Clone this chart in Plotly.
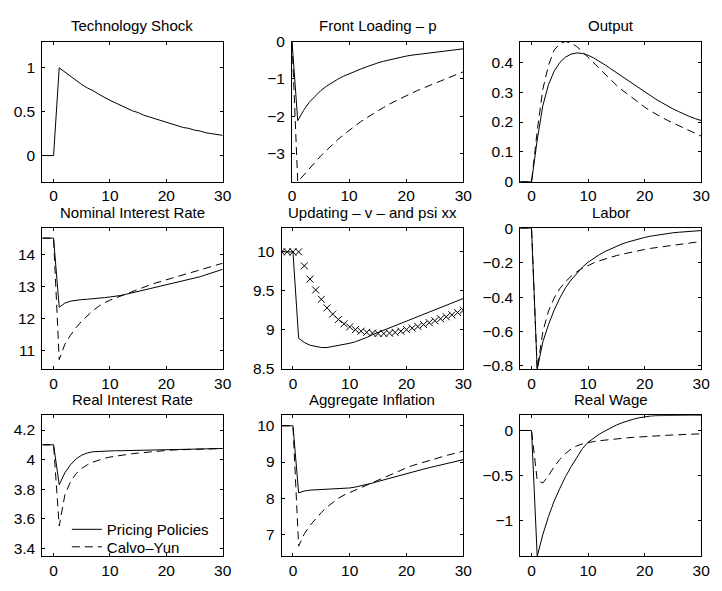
import plotly.graph_objects as go

# ---------------- data ----------------
T = list(range(-2, 31))

tech_shock = [0, 0, 0, 1.00, 0.95, 0.90, 0.86, 0.81, 0.77, 0.74, 0.70, 0.66, 0.63, 0.60, 0.57,
              0.54, 0.51, 0.49, 0.46, 0.44, 0.42, 0.40, 0.38, 0.36, 0.34, 0.32, 0.31, 0.29,
              0.28, 0.26, 0.25, 0.24, 0.23]

front_pp = [0, 0, 0, -2.12, -1.85, -1.63, -1.46, -1.32, -1.20, -1.10, -1.01, -0.93, -0.86, -0.80,
            -0.74, -0.68, -0.62, -0.575, -0.53, -0.49, -0.455, -0.42, -0.39, -0.365, -0.345,
            -0.325, -0.305, -0.285, -0.265, -0.245, -0.225, -0.21, -0.195]
front_cy = [0, 0, 0, -3.76, -3.58, -3.40, -3.23, -3.07, -2.92, -2.77, -2.63, -2.50, -2.38, -2.26,
            -2.15, -2.05, -1.95, -1.86, -1.77, -1.68, -1.60, -1.52, -1.45, -1.38, -1.31, -1.24,
            -1.18, -1.12, -1.06, -1.00, -0.94, -0.88, -0.81]

output_pp = [0, 0, 0, 0.14, 0.255, 0.325, 0.37, 0.399, 0.417, 0.427, 0.431, 0.429, 0.423, 0.414,
             0.403, 0.391, 0.378, 0.365, 0.352, 0.339, 0.326, 0.313, 0.300, 0.288, 0.276, 0.265,
             0.254, 0.244, 0.235, 0.226, 0.218, 0.211, 0.205]
output_cy = [0, 0, 0, 0.17, 0.31, 0.39, 0.44, 0.462, 0.469, 0.464, 0.452, 0.435, 0.416, 0.396,
             0.377, 0.358, 0.34, 0.323, 0.307, 0.292, 0.278, 0.264, 0.25, 0.237, 0.226, 0.216,
             0.206, 0.197, 0.188, 0.179, 0.17, 0.161, 0.153]

nomrate_pp = [14.5, 14.5, 14.5, 12.35, 12.48, 12.54, 12.57, 12.59, 12.60, 12.61, 12.63, 12.65,
              12.67, 12.69, 12.72, 12.76, 12.80, 12.84, 12.88, 12.92, 12.96, 13.00, 13.04, 13.08,
              13.13, 13.17, 13.21, 13.26, 13.30, 13.36, 13.42, 13.47, 13.53]
nomrate_cy = [14.5, 14.5, 14.5, 10.72, 11.20, 11.48, 11.72, 11.92, 12.10, 12.25, 12.38, 12.49,
              12.57, 12.64, 12.70, 12.76, 12.84, 12.92, 12.99, 13.04, 13.10, 13.15, 13.20, 13.26,
              13.31, 13.36, 13.41, 13.46, 13.51, 13.56, 13.61, 13.66, 13.72]

updating_v = [10, 10, 10, 8.89, 8.835, 8.80, 8.782, 8.77, 8.77, 8.782, 8.793, 8.808, 8.825,
              8.845, 8.87, 8.90, 8.935, 8.965, 8.994, 9.023, 9.052, 9.081, 9.11, 9.139, 9.168,
              9.197, 9.226, 9.255, 9.284, 9.313, 9.342, 9.371, 9.40]
updating_psi = [10, 10, 10, 10, 9.82, 9.65, 9.51, 9.39, 9.28, 9.20, 9.13, 9.075, 9.035, 9.00,
                8.98, 8.965, 8.955, 8.95, 8.95, 8.955, 8.965, 8.98, 9.00, 9.02, 9.04, 9.065,
                9.09, 9.115, 9.14, 9.165, 9.19, 9.22, 9.25]

labor_pp = [0, 0, 0, -0.82, -0.66, -0.56, -0.475, -0.405, -0.345, -0.30, -0.26, -0.225, -0.196,
            -0.173, -0.152, -0.134, -0.118, -0.103, -0.09, -0.079, -0.069, -0.06, -0.052, -0.045,
            -0.039, -0.034, -0.029, -0.025, -0.022, -0.019, -0.016, -0.014, -0.012]
labor_cy = [0, 0, 0, -0.82, -0.60, -0.48, -0.405, -0.35, -0.31, -0.278, -0.252, -0.232, -0.215,
            -0.20, -0.188, -0.177, -0.167, -0.158, -0.15, -0.142, -0.135, -0.128, -0.122, -0.116,
            -0.111, -0.106, -0.101, -0.096, -0.092, -0.088, -0.084, -0.08, -0.076]

realrate_pp = [4.10, 4.10, 4.10, 3.83, 3.91, 3.965, 4.005, 4.03, 4.045, 4.053, 4.056, 4.058,
               4.059, 4.06, 4.06, 4.061, 4.061, 4.062, 4.062, 4.063, 4.064, 4.065, 4.066, 4.066,
               4.067, 4.068, 4.069, 4.07, 4.071, 4.072, 4.073, 4.074, 4.075]
realrate_cy = [4.10, 4.10, 4.10, 3.55, 3.76, 3.85, 3.905, 3.94, 3.965, 3.983, 3.997, 4.008,
               4.017, 4.024, 4.03, 4.035, 4.04, 4.044, 4.048, 4.051, 4.056, 4.06, 4.063, 4.065,
               4.066, 4.067, 4.069, 4.07, 4.071, 4.072, 4.073, 4.074, 4.075]

inflation_pp = [10, 10, 10, 8.15, 8.20, 8.225, 8.235, 8.24, 8.243, 8.248, 8.255, 8.267, 8.285,
                8.31, 8.34, 8.375, 8.42, 8.465, 8.51, 8.555, 8.60, 8.64, 8.68, 8.725, 8.765,
                8.805, 8.845, 8.88, 8.92, 8.955, 8.99, 9.03, 9.065]
inflation_cy = [10, 10, 10, 6.68, 7.02, 7.25, 7.44, 7.61, 7.76, 7.89, 8.00, 8.09, 8.16, 8.23,
                8.30, 8.37, 8.44, 8.51, 8.58, 8.65, 8.72, 8.78, 8.84, 8.90, 8.95, 9.00, 9.05,
                9.10, 9.14, 9.18, 9.22, 9.26, 9.30]

wage_pp = [0, 0, 0, -1.39, -1.15, -0.95, -0.78, -0.64, -0.51, -0.40, -0.30, -0.20, -0.13, -0.08,
           -0.04, -0.005, 0.03, 0.06, 0.085, 0.107, 0.125, 0.14, 0.151, 0.159, 0.164, 0.166,
           0.167, 0.168, 0.168, 0.168, 0.168, 0.168, 0.168]
wage_cy = [0, 0, 0, -0.55, -0.58, -0.50, -0.40, -0.32, -0.255, -0.205, -0.17, -0.148, -0.133,
           -0.122, -0.113, -0.105, -0.098, -0.092, -0.086, -0.081, -0.076, -0.071, -0.067,
           -0.063, -0.059, -0.056, -0.053, -0.05, -0.047, -0.045, -0.042, -0.04, -0.037]

x_ticks = [0, 10, 20, 30]
x_ticktext = ["0", "10", "20", "30"]

tech_yticks = [0, 0.5, 1]
front_yticks = [-3, -2, -1, 0]
output_yticks = [0, 0.1, 0.2, 0.3, 0.4]
nomrate_yticks = [11, 12, 13, 14]
updating_yticks = [8.5, 9, 9.5, 10]
labor_yticks = [-0.8, -0.6, -0.4, -0.2, 0]
realrate_yticks = [3.4, 3.6, 3.8, 4, 4.2]
inflation_yticks = [7, 8, 9, 10]
wage_yticks = [-1, -0.5, 0]

titles = ["Technology Shock", "Front Loading \u2013 p", "Output",
          "Nominal Interest Rate", "Updating \u2013 v \u2013 and psi xx", "Labor",
          "Real Interest Rate", "Aggregate Inflation", "Real Wage"]
legend_names = ["Pricing Policies", "Calvo\u2013Yun"]

# ---------------- layout helpers ----------------
W, H = 722, 591
FONT = "Liberation Sans, Arial, Helvetica, sans-serif"
DASH = "8px,5px"


def fmt(v):
    s = ("%g" % v)
    return s.replace("-", "\u2212")


def xd(a, b):
    return [a / W, b / W]


def yd(top, bot):
    return [1 - bot / H, 1 - top / H]


rows = [(33.5, 178.0), (226.0, 371.0), (418.3, 563.5)]
panels = [
    dict(xd=(39.0, 222.7), row=0, xr=[-2, 30], yr=[-0.30, 1.30], yt=tech_yticks,
         lines=[(tech_shock, "solid")]),
    dict(xd=(293.3, 467.7), row=0, xr=[0, 30], yr=[-3.76, 0], yt=front_yticks,
         lines=[(front_pp, "solid"), (front_cy, DASH)]),
    dict(xd=(525.7, 710.0), row=0, xr=[-2, 30], yr=[0, 0.469], yt=output_yticks,
         lines=[(output_pp, "solid"), (output_cy, DASH)]),
    dict(xd=(39.0, 222.7), row=1, xr=[-2, 30], yr=[10.42, 14.80], yt=nomrate_yticks,
         lines=[(nomrate_pp, "solid"), (nomrate_cy, DASH)]),
    dict(xd=(282.7, 467.7), row=1, xr=[-2, 30], yr=[8.49, 10.30], yt=updating_yticks,
         lines=[(updating_v, "solid")], markers=updating_psi),
    dict(xd=(525.7, 710.0), row=1, xr=[-2, 30], yr=[-0.82, 0], yt=labor_yticks,
         lines=[(labor_pp, "solid"), (labor_cy, DASH)]),
    dict(xd=(39.0, 222.7), row=2, xr=[-2, 30], yr=[3.345, 4.30], yt=realrate_yticks,
         lines=[(realrate_pp, "solid"), (realrate_cy, DASH)], legend=True),
    dict(xd=(282.7, 467.7), row=2, xr=[-2, 30], yr=[6.40, 10.29], yt=inflation_yticks,
         lines=[(inflation_pp, "solid"), (inflation_cy, DASH)]),
    dict(xd=(525.7, 710.0), row=2, xr=[-2, 30], yr=[-1.39, 0.168], yt=wage_yticks,
         lines=[(wage_pp, "solid"), (wage_cy, DASH)]),
]

fig = go.Figure()
leg_common = dict(xanchor="left", yanchor="top", bgcolor="rgba(0,0,0,0)", borderwidth=0,
                  font=dict(family=FONT, size=15, color="black"), itemwidth=30)
layout = dict(
    width=W, height=H, autosize=False,
    margin=dict(l=0, r=0, t=0, b=0),
    paper_bgcolor="white", plot_bgcolor="white",
    font=dict(family=FONT, size=15, color="black"),
    showlegend=True,
    legend=dict(leg_common, x=64 / W, y=1 - 519 / H),
    legend2=dict(leg_common, x=64 / W, y=1 - 537 / H),
)
annotations = []
legend_ids = ["legend", "legend2"]

for i, p in enumerate(panels):
    n = i + 1
    xa = "xaxis" if n == 1 else "xaxis%d" % n
    ya = "yaxis" if n == 1 else "yaxis%d" % n
    xref = "x" if n == 1 else "x%d" % n
    yref = "y" if n == 1 else "y%d" % n
    top, bot = rows[p["row"]]
    common = dict(showline=True, linecolor="black", linewidth=1, mirror="ticks",
                  ticks="inside", ticklen=3, tickcolor="black", tickwidth=1,
                  showgrid=False, zeroline=False,
                  tickfont=dict(family=FONT, size=15.5, color="black"),
                  tickmode="array", fixedrange=True)
    layout[xa] = dict(common, domain=xd(*p["xd"]), range=p["xr"], anchor=yref,
                      tickvals=x_ticks, ticktext=x_ticktext)
    layout[ya] = dict(common, domain=yd(top, bot), range=p["yr"], anchor=xref,
                      tickvals=p["yt"], ticktext=[fmt(v) for v in p["yt"]],
                      ticklabelstandoff=3)
    for j, (vals, dash) in enumerate(p["lines"]):
        show = bool(p.get("legend"))
        fig.add_trace(go.Scatter(
            x=T, y=vals, mode="lines", xaxis=xref, yaxis=yref,
            line=dict(color="black", width=1, dash=dash),
            name=legend_names[j], showlegend=show, legend=legend_ids[j],
            hoverinfo="skip"))
    if "markers" in p:
        fig.add_trace(go.Scatter(
            x=T, y=p["markers"], mode="markers", xaxis=xref, yaxis=yref,
            marker=dict(symbol="x-thin", size=7, color="black",
                        line=dict(width=1, color="black")),
            showlegend=False, hoverinfo="skip"))
    cx = (p["xd"][0] + p["xd"][1]) / 2
    annotations.append(dict(text=titles[i], x=cx / W, y=1 - top / H, xref="paper", yref="paper",
                            xanchor="center", yanchor="middle", yshift=16, showarrow=False,
                            font=dict(family=FONT, size=15, color="black")))

layout["annotations"] = annotations
fig.update_layout(**layout)
fig.write_html("out.html")
